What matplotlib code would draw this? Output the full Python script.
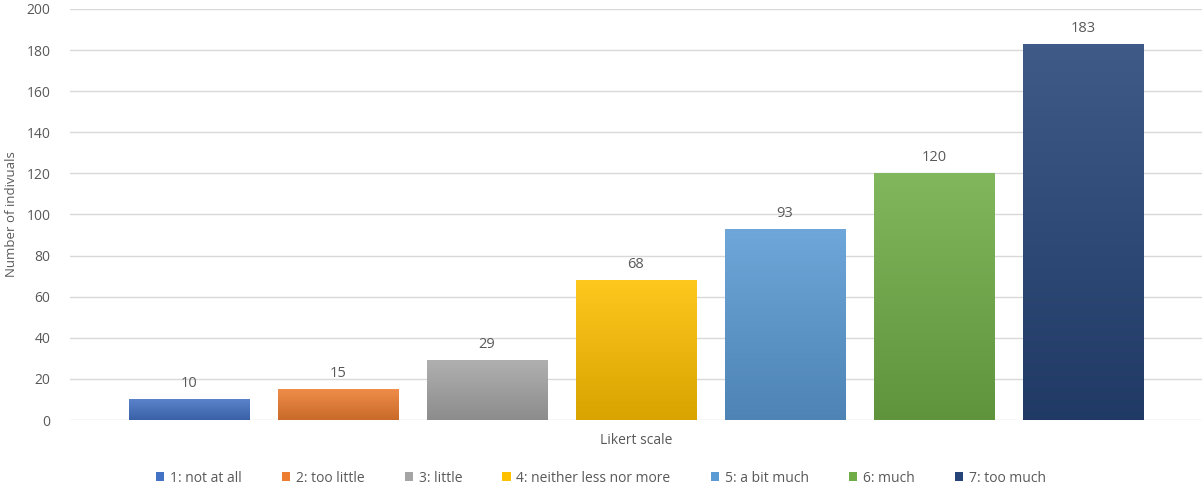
import matplotlib.pyplot as plt
import matplotlib.colors as mcolors
import numpy as np
from matplotlib.patches import Patch

labels = ["1: not at all", "2: too little", "3: little", "4: neither less nor more",
          "5: a bit much", "6: much", "7: too much"]
counts = [10, 15, 29, 68, 93, 120, 183]
colors = ["#4472C4", "#ED7D31", "#A5A5A5", "#FFC000", "#5B9BD5", "#70AD47", "#264478"]

plt.rcParams["font.family"] = ["Open Sans", "DejaVu Sans"]
TXT = "#595959"

fig = plt.figure(figsize=(12.04, 4.88), dpi=100)
ax = fig.add_axes([70 / 1204, 1 - 420 / 488, 1132 / 1204, 411 / 488])

x = np.arange(len(counts))
bars = ax.bar(x, counts, width=0.81, color=colors, zorder=2)

# gradient fill: lighter at top, darker at bottom
for b, c in zip(bars, colors):
    rgb = np.array(mcolors.to_rgb(c))
    top = rgb + (1 - rgb) * 0.12
    bot = rgb * 0.85
    t = np.linspace(0, 1, 256)[:, None]
    grad = (top[None, :] * (1 - t) + bot[None, :] * t)[:, None, :]
    x0, y0 = b.get_x(), b.get_y()
    w, h = b.get_width(), b.get_height()
    im = ax.imshow(grad, extent=[x0, x0 + w, y0, y0 + h], aspect="auto",
                   origin="upper", zorder=3)
    im.set_clip_path(b)
    ax.text(x0 + w / 2, h + 4, str(h), ha="center", va="bottom",
            fontsize=10.5, color=TXT, zorder=4)

ax.set_xlim(-0.8, 6.8)
ax.set_ylim(0, 200)
ax.set_yticks(range(0, 201, 20))
ax.set_xticks([])
ax.grid(axis="y", color="#D9D9D9", linewidth=1, zorder=0)
for s in ax.spines.values():
    s.set_visible(False)
ax.tick_params(axis="y", length=0, labelsize=10, labelcolor=TXT, pad=14)

ax.set_ylabel("Number of indivuals", fontsize=9.5, color=TXT, labelpad=6)
fig.text(0.5 * (70 + 1202) / 1204, 1 - 440 / 488, "Likert scale", ha="center",
         va="center", fontsize=10, color=TXT)

handles = [Patch(facecolor=c) for c in colors]
fig.legend(handles, labels, loc="center", bbox_to_anchor=(0.499, 1 - 478 / 488),
           ncol=7, frameon=False, fontsize=10, handlelength=0.6, handleheight=0.6,
           handletextpad=0.4, columnspacing=2.9, labelcolor=TXT)

fig.savefig("out.png", dpi=100)
